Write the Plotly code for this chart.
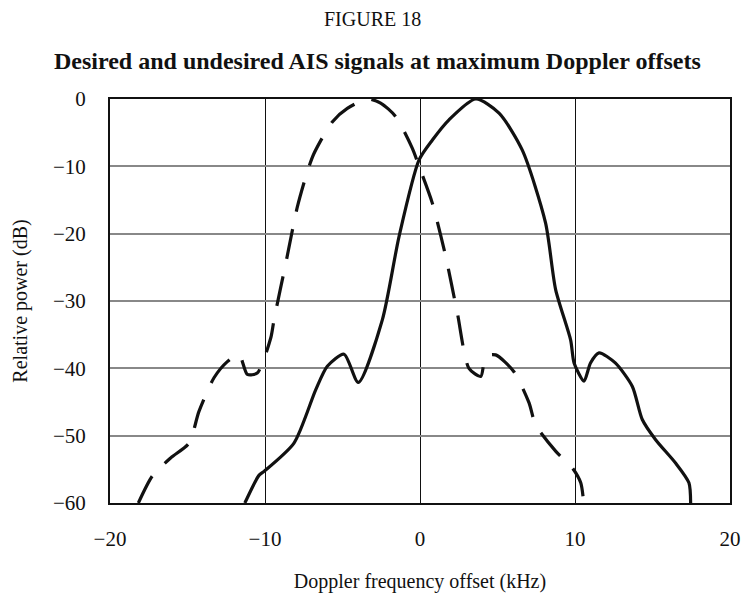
import plotly.graph_objects as go

# Desired signal (solid)
desired_x = [-11.3, -10.39, -10.06, -8.13, -6.73, -5.98, -4.9, -3.98, -2.43, -1.35,
             -0.06, 0.8, 1.87, 3.6, 5.1, 6.6, 8.1, 8.75, 9.72, 9.94, 10.58, 11.0,
             11.55, 12.6, 13.7, 14.34, 15.2, 16.5, 17.35, 17.46]
desired_y = [-60, -55.9, -55.3, -51.1, -43.2, -39.7, -37.9, -42.1, -32.8, -20.4,
             -9.05, -6.1, -3.1, 0, -2.1, -7.6, -18.4, -28.3, -35.8, -39.2, -41.9, -39.2,
             -37.7, -39.2, -42.7, -47.6, -50.6, -54.1, -57.0, -60]

# Undesired signal (dashed)
undesired_x = [-18.17, -17.27, -16.08, -14.9, -14.26, -13.29, -12.43, -11.68, -11.14, -10.5,
               -9.63, -9.42, -8.66, -7.91, -7.27, -6.84, -5.66, -4.69, -3.4, -2.54,
               -1.57, -0.5, -0.06, 0.8, 1.66, 2.41, 3.16, 3.92, 4.24, 4.88,
               6.06, 7.03, 7.46, 8.75, 9.83, 10.37, 10.54]
undesired_y = [-60, -56.0, -53.3, -51.1, -46.4, -41.4, -39.0, -37.9, -40.9, -40.7,
               -35.5, -32.8, -24.4, -16.0, -10.8, -8.1, -3.4, -1.4, 0, -0.6,
               -2.6, -7.3, -10.0, -15.5, -23.4, -31.8, -40.0, -41.2, -38.2, -38.0,
               -40.5, -45.1, -48.4, -52.3, -54.8, -57.0, -59.5]

x_ticks = [-20, -10, 0, 10, 20]
x_ticktext = ["\u221220", "\u221210", "0", "10", "20"]
y_ticks = [0, -10, -20, -30, -40, -50, -60]
y_ticktext = ["0", "\u221210", "\u221220", "\u221230", "\u221240", "\u221250", "\u221260"]

FONT = "Liberation Serif, Times New Roman, serif"

fig = go.Figure()
fig.add_trace(go.Scatter(x=undesired_x, y=undesired_y, mode="lines",
                         line=dict(color="#111111", width=3.2, dash="30px,18px", shape="spline", smoothing=0.7),
                         showlegend=False, hoverinfo="skip"))
fig.add_trace(go.Scatter(x=desired_x, y=desired_y, mode="lines",
                         line=dict(color="#111111", width=3.2, shape="spline", smoothing=0.7),
                         showlegend=False, hoverinfo="skip"))

fig.update_layout(
    width=744, height=594,
    margin=dict(l=110, r=14, t=99, b=91, pad=0, autoexpand=False),
    paper_bgcolor="white", plot_bgcolor="white",
    font=dict(family=FONT, size=20, color="#111111"),
    showlegend=False,
    annotations=[
        dict(text="FIGURE 18", xref="paper", yref="paper", x=(372 - 110) / 620, y=(503 - 19) / 404,
             xanchor="center", yanchor="middle", showarrow=False,
             font=dict(family=FONT, size=20, color="#111111")),
        dict(text="<b>Desired and undesired AIS signals at maximum Doppler offsets</b>",
             xref="paper", yref="paper", x=(377 - 110) / 620, y=(503 - 61) / 404,
             xanchor="center", yanchor="middle", showarrow=False,
             font=dict(family=FONT, size=24, color="#111111")),
    ],
)

fig.update_xaxes(
    range=[-20, 20], tickvals=x_ticks, ticktext=x_ticktext,
    showgrid=True, gridcolor="#111111", gridwidth=1,
    showline=True, linecolor="#111111", linewidth=2, mirror=True,
    ticks="", zeroline=False, ticklabelstandoff=16, automargin=False,
    title=dict(text="Doppler frequency offset (kHz)", standoff=24, font=dict(size=20)),
    tickfont=dict(size=21),
)
fig.update_yaxes(
    range=[-60, 0], tickvals=y_ticks, ticktext=y_ticktext,
    showgrid=True, gridcolor="#888888", gridwidth=1.5,
    showline=True, linecolor="#111111", linewidth=2, mirror=True,
    ticks="", zeroline=False, ticklabelstandoff=18, automargin=False,
    title=dict(text="Relative power (dB)", standoff=20, font=dict(size=20)),
    tickfont=dict(size=21),
)

fig.write_html("out.html")
